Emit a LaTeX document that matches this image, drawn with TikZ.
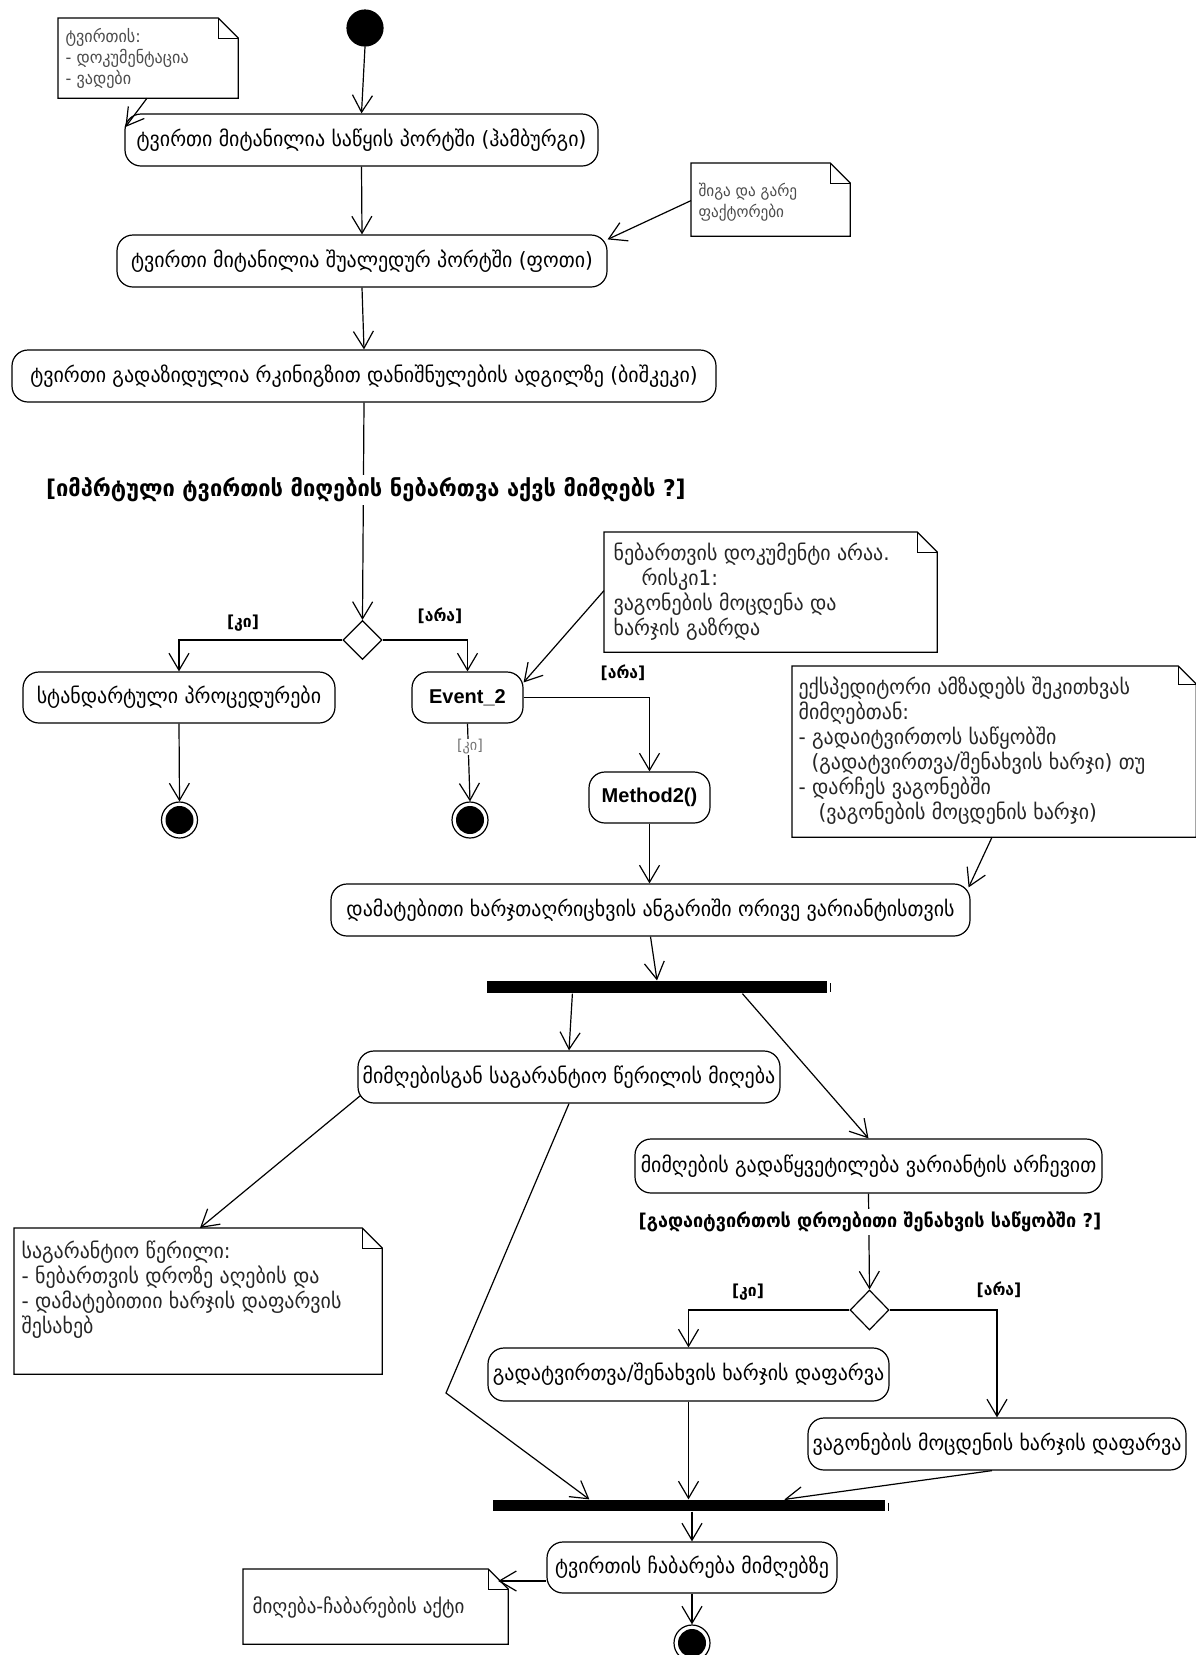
\documentclass[tikz,border=0pt]{standalone}
\usepackage{fontspec}
\setmainfont{DejaVu Sans}[FakeStretch=0.95]
\newfontfamily\latf{Liberation Sans}
\usetikzlibrary{arrows.meta,shapes.geometric,calc}
\newcommand{\umlnote}[2]{%
  \filldraw[fill=white,line width=1.3pt] (#1.north west) -- ($(#1.north east)+(-#2,0)$) -- ($(#1.north east)+(0,#2)$) -- (#1.south east) -- (#1.south west) -- cycle;
  \draw[line width=1pt] ($(#1.north east)+(-#2,0)$) -- ($(#1.north east)+(-#2,#2)$) -- ($(#1.north east)+(0,#2)$);}
\begin{document}
\begin{tikzpicture}[x=1pt,y=-1pt,line width=1.2pt,
  flow/.style={-{Straight Barb[length=17pt,width=20pt]}},
  act/.style={draw,rounded corners=16pt,inner sep=0pt,align=center,font=\fontsize{21}{25}\selectfont},
  actl/.style={act,font=\latf\bfseries\fontsize{20}{24}\selectfont},
  startnode/.style={circle,fill=black,draw=black,minimum size=36pt,inner sep=0pt},
  finalnode/.style={circle,draw,minimum size=36pt,inner sep=0pt,path picture={\fill[black] (path picture bounding box.center) circle (14pt);}},
  decision/.style={diamond,draw,aspect=1,minimum width=39pt,minimum height=39pt,inner sep=0pt,fill=white},
  bar/.style={rectangle,fill=black,inner sep=0pt,minimum height=12pt},
  notebox/.style={rectangle,inner sep=0pt,anchor=north west},
  notetext/.style={anchor=base west,inner sep=0pt,text=black!85},
  guard/.style={font=\bfseries\fontsize{16.5}{20}\selectfont,inner sep=1pt},
  bigguard/.style={fill=white,inner sep=3pt,font=\bfseries\fontsize{23}{27}\selectfont},
]
\fill[white] (0,0) rectangle (1196,1655);
\useasboundingbox (0,0) rectangle (1196,1655);

% ---- nodes ----
\node[startnode] (init) at (365,28) {};
\node[act,minimum width=473pt,minimum height=52pt] (A1) at (361.5,140) {ტვირთი მიტანილია საწყის პორტში (ჰამბურგი)};
\node[act,minimum width=490pt,minimum height=52pt] (A2) at (362,261) {ტვირთი მიტანილია შუალედურ პორტში (ფოთი)};
\node[act,minimum width=704pt,minimum height=52pt] (A3) at (364,376) {ტვირთი გადაზიდულია რკინიგზით დანიშნულების ადგილზე (ბიშკეკი)};
\node[decision] (D1) at (362.5,640) {};
\node[act,minimum width=312pt,minimum height=51pt] (A4) at (179,697.5) {სტანდარტული პროცედურები};
\node[actl,minimum width=111pt,minimum height=51pt] (E2) at (467.5,697.5) {Event\_2};
\node[finalnode] (F1) at (179.5,820) {};
\node[finalnode] (F2) at (470,820) {};
\node[actl,minimum width=121pt,minimum height=51pt] (M2) at (649.5,797.5) {Method2()};
\node[act,minimum width=639pt,minimum height=52pt] (A6) at (650.5,910) {დამატებითი ხარჯთაღრიცხვის ანგარიში ორივე ვარიანტისთვის};
\node[bar,minimum width=340pt] (fork) at (657,987) {};
\node[act,minimum width=422pt,minimum height=52pt] (A7) at (569,1077) {მიმღებისგან საგარანტიო წერილის მიღება};
\node[act,minimum width=467pt,minimum height=54pt] (A8) at (868.5,1166) {მიმღების გადაწყვეტილება ვარიანტის არჩევით};
\node[decision,minimum height=40pt] (D2) at (869.5,1310) {};
\node[act,minimum width=401pt,minimum height=53pt] (A9) at (688.5,1374.5) {გადატვირთვა/შენახვის ხარჯის დაფარვა};
\node[act,minimum width=378pt,minimum height=52pt] (A10) at (997,1444) {ვაგონების მოცდენის ხარჯის დაფარვა};
\node[bar,minimum width=392pt,minimum height=11pt] (join) at (689,1505.5) {};
\node[act,minimum width=290pt,minimum height=51pt] (A11) at (692,1567.5) {ტვირთის ჩაბარება მიმღებზე};
\node[finalnode] (F3) at (692,1643) {};

% ---- notes ----
\node[notebox,minimum width=179pt,minimum height=79pt] (N1) at (58,18) {};
\umlnote{N1}{20}
\node[notetext,text=black!70] (N1t) at (65,42) {\parbox[t]{170pt}{\fontsize{17}{21}\selectfont ტვირთის:\\- დოკუმენტაცია\\- ვადები}};

\node[notebox,minimum width=158pt,minimum height=72pt] (N2) at (691,163) {};
\umlnote{N2}{20}
\node[notetext,text=black!70] (N2t) at (698,196) {\parbox[t]{150pt}{\fontsize{16}{21}\selectfont შიგა და გარე\\ფაქტორები}};

\node[notebox,minimum width=332pt,minimum height=119pt] (N3) at (604,532) {};
\umlnote{N3}{20}
\node[notetext] (N3t) at (613,560) {\parbox[t]{320pt}{\fontsize{21}{25}\selectfont ნებართვის დოკუმენტი არაა.\\\hspace*{28pt}რისკი1:\\ვაგონების მოცდენა და\\ხარჯის გაზრდა}};

\node[notebox,minimum width=403pt,minimum height=170pt] (N4) at (792,666) {};
\umlnote{N4}{18}
\node[notetext] (N4t) at (798,694) {\parbox[t]{395pt}{\fontsize{21}{25}\selectfont ექსპედიტორი ამზადებს შეკითხვას\\მიმღებთან:\\- გადაიტვირთოს საწყობში\\\hspace*{13pt}(გადატვირთვა/შენახვის ხარჯი) თუ\\- დარჩეს ვაგონებში\\\hspace*{20pt}(ვაგონების მოცდენის ხარჯი)}};

\node[notebox,minimum width=367pt,minimum height=145pt] (N5) at (14,1228) {};
\umlnote{N5}{20}
\node[notetext] (N5t) at (21,1258) {\parbox[t]{355pt}{\fontsize{21}{25}\selectfont საგარანტიო წერილი:\\- ნებართვის დროზე აღების და\\- დამატებითიი ხარჯის დაფარვის\\შესახებ}};

\node[notebox,minimum width=264pt,minimum height=74pt] (N6) at (243,1569) {};
\umlnote{N6}{20}
\node[notetext] (N6t) at (252,1613) {\parbox[t]{250pt}{\fontsize{20}{24}\selectfont მიღება-ჩაბარების აქტი}};

% ---- connectors ----
\draw[flow] (init.south) -- (A1.north);
\draw[flow] ($(N1.south west)+(89,0)$) -- ($(A1.west)+(1,-13)$);
\draw[flow] (A1.south) -- (A2.north);
\draw[flow] ($(N2.west)+(0,1)$) -- ($(A2.north east)+(0,5)$);
\draw[flow] (A2.south) -- (A3.north);
\draw[flow] (A3.south) -- (D1.north);
\node[bigguard] (L1) at (366,490) {[იმპრტული ტვირთის მიღების ნებართვა აქვს მიმღებს ?]};
\draw[flow] (D1.west) -| (A4.north);
\draw[flow] (D1.east) -| (E2.north);
\node[guard] (gk1) at (243,623) {[კი]};
\node[guard] (ga1) at (440,616) {[არა]};
\draw[flow] (A4.south) -- (F1.north);
\draw[flow] (E2.south) -- (F2.north);
\node[fill=white,inner sep=1pt,text=black!55,font=\fontsize{15}{17}\selectfont] (gk2) at (470,747) {[კი]};
\draw[flow] (E2.east) -| (M2.north);
\node[guard] (ga2) at (623,673) {[არა]};
\draw[flow] ($(N3.west)+(0,-1.5)$) -- ($(E2.north east)+(0,11)$);
\draw[flow] (M2.south) -- (M2.south |- A6.north);
\draw[flow] ($(N4.south west)+(200,0)$) -- ($(A6.north east)+(-2,4)$);
\draw[flow] (A6.south) -- (fork.north);
\draw[line width=0.8pt] ($(fork.east)+(3,-4)$) -- ($(fork.east)+(3,5)$);
\draw[flow] ($(fork.south west)+(86,0)$) -- (A7.north);
\draw[flow] ($(fork.south west)+(256,0)$) -- (A8.north);
\draw[flow] ($(A7.south west)+(3,-8)$) -- ($(N5.north west)+(186,0)$);
\coordinate (k1) at (446,1393);
\draw[flow] (A7.south) -- (k1) -- ($(join.north west)+(97,0)$);
\draw[flow] (A8.south) -- (D2.north);
\node[bigguard,font=\bfseries\fontsize{19}{23}\selectfont] (L2) at (870,1222) {[გადაიტვირთოს დროებითი შენახვის საწყობში ?]};
\draw[flow] (D2.west) -| (A9.north);
\draw[flow] (D2.east) -| (A10.north);
\node[guard] (gk3) at (748,1292) {[კი]};
\node[guard] (ga3) at (999,1290) {[არა]};
\draw[flow] (A9.south) -- (A9.south |- join.north);
\draw[flow] ($(A10.south)+(-5,0)$) -- ($(join.north west)+(292,0)$);
\draw[line width=0.8pt] ($(join.east)+(3,-3)$) -- ($(join.east)+(3,5)$);
\draw[flow] (A11.north |- join.south) -- (A11.north);
\draw[flow] ($(A11.west)+(0,13.5)$) -- ($(N6.north east)+(-10,12)$);
\draw[flow] (A11.south) -- (F3.north);
\end{tikzpicture}
\end{document}
